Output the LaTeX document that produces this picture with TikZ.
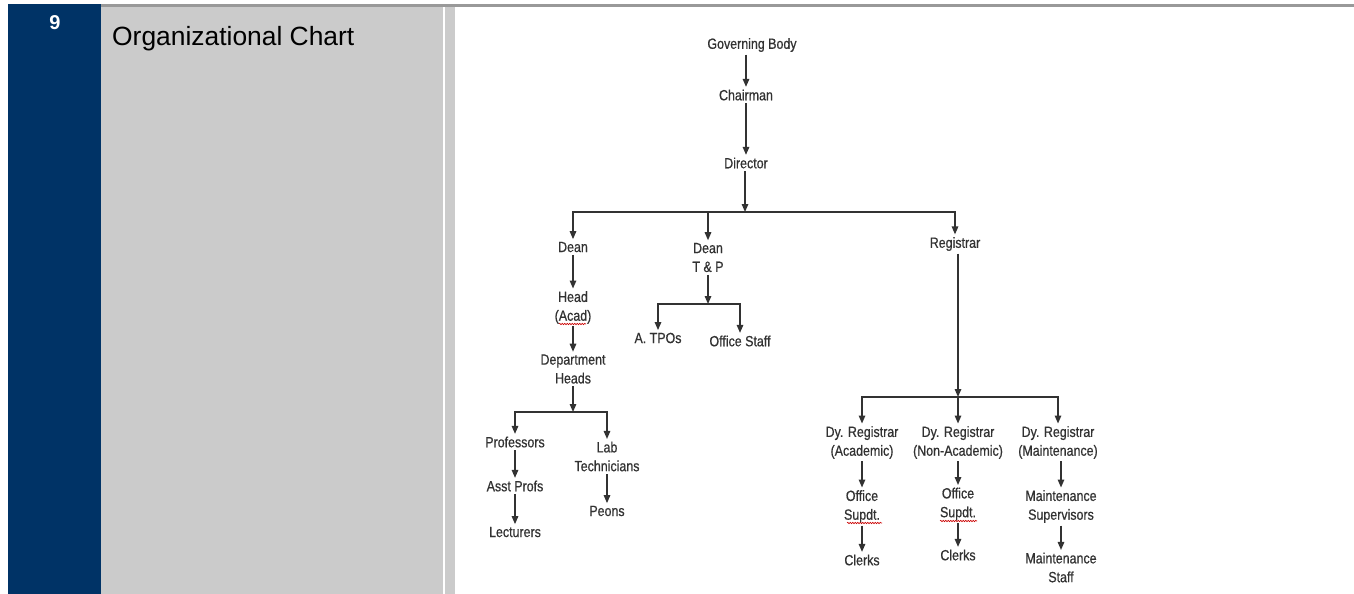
\documentclass[tikz,border=0pt]{standalone}
\usepackage{fontspec}
\setmainfont{Liberation Sans}
\newfontfamily\chartfont[FakeStretch=0.84,FakeBold=0.6]{Liberation Sans}
\usetikzlibrary{arrows.meta,decorations.pathmorphing}
\definecolor{navy}{RGB}{0,51,102}
\definecolor{panelgray}{RGB}{203,203,203}
\definecolor{rulegray}{RGB}{153,153,153}
\definecolor{ink}{RGB}{50,50,50}
\begin{document}
\begin{tikzpicture}[x=1pt,y=-1pt,
  box/.style={inner sep=2.5pt, align=center, text=ink, font=\chartfont\fontsize{14.8}{18.8}\selectfont},
  arr/.style={draw=ink, line width=1.4pt, -{Triangle[length=8pt,width=6.5pt]}},
  ln/.style={draw=ink, line width=1.4pt, line cap=rect},
  squig/.style={draw=red!80!black, line width=0.6pt, decorate, decoration={snake, amplitude=0.7pt, segment length=2.5pt}}]
\useasboundingbox (0,0) rectangle (1354,594);
\fill[white] (0,0) rectangle (1354,594);
\fill[navy] (8,4) rectangle (101,594);
\fill[rulegray] (101,4) rectangle (1354,7);
\fill[panelgray] (101,7) rectangle (443,594);
\fill[panelgray] (445,7) rectangle (455,594);
\node[text=white, inner sep=0pt, font=\bfseries\fontsize{20}{24}\selectfont] (num) at (55,22.5) {9};
\node[anchor=base west, inner sep=0pt, font=\fontsize{26.4}{30}\selectfont] (title) at (112,45.5) {Organizational Chart};

% chart nodes
\node[box] (gb) at (752,45) {Governing Body};
\node[box] (chair) at (746,95) {Chairman};
\node[box] (dir) at (746,163) {Director};
\node[box] (dean) at (573,247) {Dean};
\node[box] (deantp) at (708,257.5) {Dean\\T \& P};
\node[box] (reg) at (955,244) {Registrar};
\node[box] (head) at (573,307.5) {Head\\(Acad)};
\node[box] (dept) at (573,369) {Department\\Heads};
\node[box] (tpos) at (658,338) {A. TPOs};
\node[box] (ostaff) at (740,341) {Office Staff};
\node[box] (prof) at (515,442) {Professors};
\node[box] (asst) at (515,486) {Asst Profs};
\node[box] (lect) at (515,532) {Lecturers};
\node[box] (lab) at (607,456.5) {Lab\\Technicians};
\node[box] (peons) at (607,511) {Peons};
\node[box] (dy1) at (862,442.5) {Dy. Registrar\\(Academic)};
\node[box] (dy2) at (958,442.5) {Dy. Registrar\\(Non-Academic)};
\node[box] (dy3) at (1058,442.5) {Dy. Registrar\\(Maintenance)};
\node[box] (os1) at (862,506.5) {Office\\Supdt.};
\node[box] (os2) at (958,504) {Office\\Supdt.};
\node[box] (msup) at (1061,506.5) {Maintenance\\Supervisors};
\node[box] (cl1) at (862,560) {Clerks};
\node[box] (cl2) at (958,555) {Clerks};
\node[box] (mstaff) at (1061,567.5) {Maintenance\\Staff};

% junction points
\coordinate (jA) at (745,212);
\coordinate (jT) at (708,304);
\coordinate (jD) at (573,412);
\coordinate (jR) at (958,397);

% connectors
\draw[arr] (chair |- gb.south) -- (chair.north);
\draw[arr] (chair.south) -- (dir.north);
\draw[arr] (jA |- dir.south) -- (jA);
\draw[ln] (dean.north |- jA) -- (reg.north |- jA);
\draw[arr] (dean.north |- jA) -- (dean.north);
\draw[arr] (deantp.north |- jA) -- (deantp.north);
\draw[arr] (reg.north |- jA) -- (reg.north);

\draw[arr] (deantp.south) -- (jT);
\draw[ln] (tpos.north |- jT) -- (ostaff.north |- jT);
\draw[arr] (tpos.north |- jT) -- (tpos.north);
\draw[arr] (ostaff.north |- jT) -- (ostaff.north);

\draw[arr] (dean.south) -- (head.north);
\draw[arr] (head.south) -- (dept.north);
\draw[arr] (dept.south) -- (jD);
\draw[ln] (prof.north |- jD) -- (lab.north |- jD);
\draw[arr] (prof.north |- jD) -- (prof.north);
\draw[arr] (lab.north |- jD) -- (lab.north);
\draw[arr] (prof.south) -- (asst.north);
\draw[arr] (asst.south) -- (lect.north);
\draw[arr] (lab.south) -- (peons.north);

\draw[arr] (jR |- reg.south) -- (jR);
\draw[ln] (dy1.north |- jR) -- (dy3.north |- jR);
\draw[arr] (dy1.north |- jR) -- (dy1.north);
\draw[arr] (dy2.north |- jR) -- (dy2.north);
\draw[arr] (dy3.north |- jR) -- (dy3.north);
\draw[arr] (dy1.south) -- (os1.north);
\draw[arr] (os1.south) -- (cl1.north);
\draw[arr] (dy2.south) -- (os2.north);
\draw[arr] (os2.south) -- (cl2.north);
\draw[arr] (msup.north |- dy3.south) -- (msup.north);
\draw[arr] (msup.south) -- (mstaff.north);

% spelling squiggles
\draw[squig] (559,324) -- (586,324);
\draw[squig] (847,523) -- (882,523);
\draw[squig] (940,521) -- (977,521);
\end{tikzpicture}
\end{document}
